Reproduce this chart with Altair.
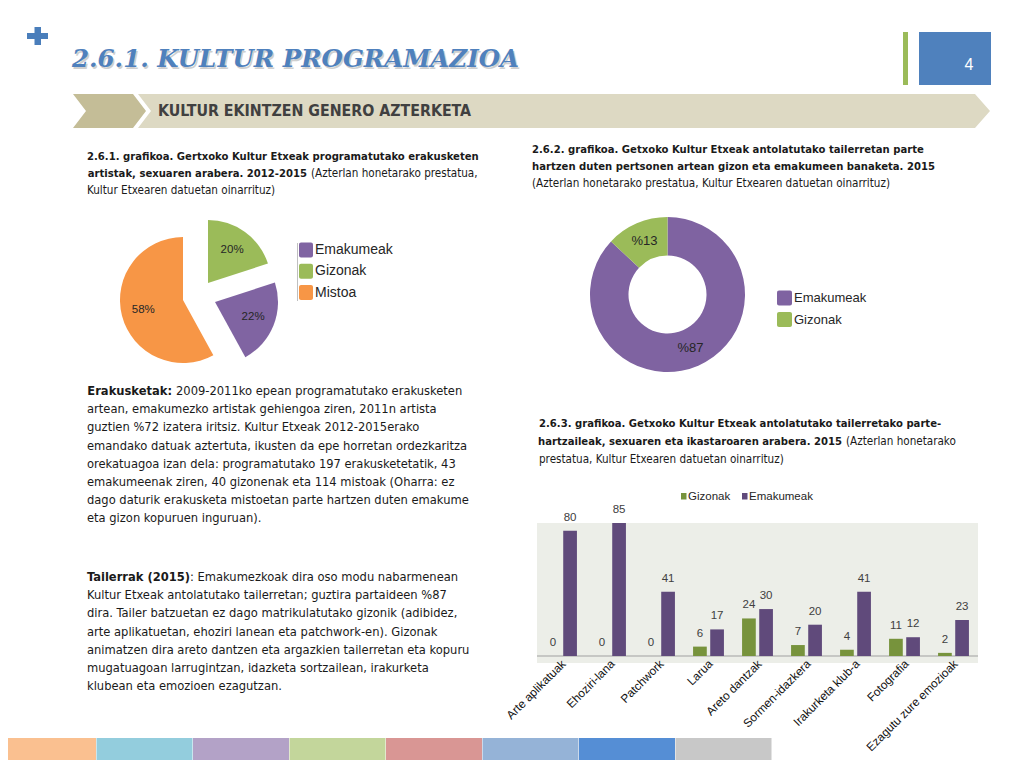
import math
import altair as alt
import pandas as pd

# ---------------- data ----------------
pie1_cats = ["Emakumeak", "Gizonak", "Mistoa"]
pie1_vals = [22, 20, 58]
pie1_draw_order = ["Gizonak", "Emakumeak", "Mistoa"]
pie1_colors = ["#8064a2", "#9bbb59", "#f79646"]

donut_cats = ["Emakumeak", "Gizonak"]
donut_vals = [87, 13]
donut_draw_order = ["Emakumeak", "Gizonak"]
donut_colors = ["#7f63a1", "#9bbb59"]

bar_cats = ["Arte aplikatuak", "Ehoziri-lana", "Patchwork", "Larua", "Areto dantzak",
            "Sormen-idazkera", "Irakurketa klub-a", "Fotografia", "Ezagutu zure emozioak"]
bar_gizonak = [0, 0, 0, 6, 24, 7, 4, 11, 2]
bar_emakumeak = [80, 85, 41, 17, 30, 20, 41, 12, 23]
bar_series = ["Gizonak", "Emakumeak"]
bar_colors = ["#77933c", "#604a7b"]

strip_colors = ["#fac090", "#93cddd", "#b3a2c7", "#c3d69b", "#d99694", "#95b3d7", "#558ed5", "#c8c8c8"]

title_text = "2.6.1.  KULTUR PROGRAMAZIOA"
banner_text = "KULTUR EKINTZEN GENERO AZTERKETA"
page_no = "4"

cap1_bold = ["2.6.1. grafikoa. Gertxoko Kultur Etxeak programatutako erakusketen",
             "artistak, sexuaren arabera. 2012-2015"]
cap1_norm = ["(Azterlan honetarako prestatua,", "Kultur Etxearen datuetan oinarrituz)"]

cap2_bold = ["2.6.2. grafikoa. Getxoko Kultur Etxeak antolatutako tailerretan parte",
             "hartzen duten pertsonen artean gizon eta emakumeen banaketa. 2015"]
cap2_norm = ["(Azterlan honetarako prestatua, Kultur Etxearen datuetan oinarrituz)"]

cap3_bold = ["2.6.3. grafikoa. Getxoko Kultur Etxeak antolatutako tailerretako parte-",
             "hartzaileak, sexuaren eta ikastaroaren arabera. 2015"]
cap3_norm = ["(Azterlan honetarako", "prestatua, Kultur Etxearen datuetan oinarrituz)"]

par1_bold = "Erakusketak:"
par1_lines = ["2009-2011ko epean programatutako erakusketen",
              "artean, emakumezko artistak gehiengoa ziren, 2011n artista",
              "guztien %72 izatera iritsiz. Kultur Etxeak 2012-2015erako",
              "emandako datuak aztertuta, ikusten da epe horretan ordezkaritza",
              "orekatuagoa izan dela: programatutako 197 erakusketetatik, 43",
              "emakumeenak ziren, 40 gizonenak eta 114 mistoak (Oharra: ez",
              "dago daturik erakusketa mistoetan parte hartzen duten emakume",
              "eta gizon kopuruen inguruan)."]

par2_bold = "Tailerrak (2015)"
par2_lines = [": Emakumezkoak dira oso modu nabarmenean",
              "Kultur Etxeak antolatutako tailerretan; guztira partaideen %87",
              "dira. Tailer batzuetan ez dago matrikulatutako gizonik (adibidez,",
              "arte aplikatuetan, ehoziri lanean eta patchwork-en). Gizonak",
              "animatzen dira areto dantzen eta argazkien tailerretan eta kopuru",
              "mugatuagoan larrugintzan, idazketa sortzailean, irakurketa",
              "klubean eta emozioen ezagutzan."]

# ---------------- helpers ----------------
W, H = 1008, 752


def P(v):
    return v - 8


one = pd.DataFrame({"d": [0]})
NARROW = "'Liberation Sans Narrow', 'Arial Narrow', 'DejaVu Sans Condensed', sans-serif"
SANS = "'Liberation Sans', Arial, sans-serif"
SERIF = "'DejaVu Serif', serif"

CAP_B = 11.2
CAP_N = 11.6
BODY = 12.8


def txt(x, y, s, size=14, weight="normal", color="#1a1a1a", font=NARROW, align="left",
        baseline="middle", style="normal", angle=0):
    return alt.Chart(one).mark_text(
        fontSize=size, fontWeight=weight, font=font, align=align, baseline=baseline,
        fontStyle=style, angle=angle, color=color
    ).encode(x=alt.value(P(x)), y=alt.value(P(y)), text=alt.value(s))


def rect(x1, y1, x2, y2, color, corner=0):
    return alt.Chart(one).mark_rect(color=color, cornerRadius=corner).encode(
        x=alt.value(P(x1)), x2=alt.value(P(x2)), y=alt.value(P(y1)), y2=alt.value(P(y2)))


def poly(points, color):
    path = "M " + " L ".join(f"{P(a)} {P(b)}" for a, b in points) + " Z"
    return alt.Chart(one).mark_point(shape=path, size=4, filled=True, color=color,
                                     opacity=1, strokeWidth=0).encode(
        x=alt.value(0), y=alt.value(0))


def mixed(xj, y, bold, norm, bsize, nsize, gap=4):
    """bold text ending at junction xj, normal text starting just after it"""
    return [txt(xj, y, bold, size=bsize, weight="bold", align="right"),
            txt(xj + gap, y, norm, size=nsize)]


layers = []

# ---------------- header ----------------
layers.append(rect(27, 33, 48, 39, "#4a7ebb"))
layers.append(rect(34.5, 27, 41, 45, "#4a7ebb"))
layers.append(txt(73.5, 68.5, title_text, size=24.5, weight="bold", style="italic", font=SERIF,
                  color="#cfcfcf", baseline="alphabetic"))
layers.append(txt(72, 67, title_text, size=24.5, weight="bold", style="italic", font=SERIF,
                  color="#4f81bd", baseline="alphabetic"))
layers.append(rect(903, 32, 908, 85, "#9bbb59"))
layers.append(rect(919, 32, 991, 85, "#4f81bd"))
layers.append(txt(969, 65, page_no, size=16, font=SANS, color="white", align="center"))

# banner
layers.append(poly([(73, 94), (133, 94), (146, 111), (133, 128), (73, 128), (86, 111)], "#c4bd97"))
layers.append(poly([(138, 94), (975, 94), (990, 111), (975, 128), (138, 128), (151, 111)], "#ddd9c3"))
layers.append(txt(158, 111, banner_text, size=15.8, weight="bold", color="#404040"))

# ---------------- captions ----------------
layers.append(txt(87, 157, cap1_bold[0], size=CAP_B, weight="bold"))
layers += mixed(307, 174, cap1_bold[1], cap1_norm[0], CAP_B, CAP_N)
layers.append(txt(87, 191, cap1_norm[1], size=CAP_N))

layers.append(txt(532, 150, cap2_bold[0], size=CAP_B, weight="bold"))
layers.append(txt(532, 167, cap2_bold[1], size=CAP_B, weight="bold"))
layers.append(txt(532, 184, cap2_norm[0], size=CAP_N))

layers.append(txt(539, 424, cap3_bold[0], size=CAP_B, weight="bold"))
layers += mixed(842, 442, cap3_bold[1], cap3_norm[0], CAP_B, CAP_N)
layers.append(txt(539, 460, cap3_norm[1], size=CAP_N))

# ---------------- paragraphs ----------------
LH = 18.2
layers += mixed(172, 391, par1_bold, par1_lines[0], BODY, BODY, gap=4)
for i, line in enumerate(par1_lines[1:], start=1):
    layers.append(txt(87, 391 + i * LH, line, size=BODY))

layers += mixed(190, 577, par2_bold, par2_lines[0], BODY, BODY, gap=0)
for i, line in enumerate(par2_lines[1:], start=1):
    layers.append(txt(87, 577 + i * LH, line, size=BODY))

# ---------------- pies ----------------
THETA = alt.Scale(domain=[0, 100], range=[0, 2 * math.pi])


def pie_layers(cats, vals, order, colors, centers, r_out, r_in, label_r, label_expr, fsize):
    df = pd.DataFrame({"cat": cats, "val": vals})
    df["rank"] = [order.index(c) for c in cats]
    base = alt.Chart(df).transform_window(
        v1="sum(val)", sort=[alt.SortField("rank")], frame=[None, 0]
    ).transform_calculate(
        v0="datum.v1 - datum.val", vm="datum.v1 - datum.val / 2", label=label_expr)
    out = []
    for c, col in zip(cats, colors):
        cx, cy = centers[c]
        b = base.transform_filter(alt.datum.cat == c)
        kw = dict(radius=r_out, color=col)
        if r_in:
            kw["radius2"] = r_in
        out.append(b.mark_arc(**kw).encode(
            theta=alt.Theta("v0:Q", scale=THETA, stack=None), theta2="v1:Q",
            x=alt.value(P(cx)), y=alt.value(P(cy))))
        out.append(b.mark_text(radius=label_r, fontSize=fsize, font=SANS, color="#262626").encode(
            theta=alt.Theta("vm:Q", scale=THETA, stack=None), text="label:N",
            x=alt.value(P(cx)), y=alt.value(P(cy))))
    return out


pie1_centers = {"Gizonak": (208, 283), "Emakumeak": (215, 302), "Mistoa": (183, 300)}
layers += pie_layers(pie1_cats, pie1_vals, pie1_draw_order, pie1_colors, pie1_centers,
                     63, 0, 41, "datum.val + '%'", 11.5)

donut_centers = {c: (667.5, 294.5) for c in donut_cats}
layers += pie_layers(donut_cats, donut_vals, donut_draw_order, donut_colors, donut_centers,
                     77.5, 39, 58, "'%' + datum.val", 13)

# pie legends
layers.append(alt.Chart(one).mark_rule(color="#bfbfbf", strokeWidth=1).encode(
    x=alt.value(P(297.5)), y=alt.value(P(243)), y2=alt.value(P(301))))
for i, (c, col) in enumerate(zip(pie1_cats, pie1_colors)):
    yc = 250 + i * 21.3
    layers.append(rect(299, yc - 7.5, 313, yc + 7.5, col, corner=2))
    layers.append(txt(315, yc, c, size=14, font=SANS, color="#262626"))

for i, (c, col) in enumerate(zip(donut_cats, donut_colors)):
    yc = 298 + i * 21.5
    layers.append(rect(777, yc - 7.5, 792, yc + 7.5, col, corner=2))
    layers.append(txt(794, yc, c, size=13, font=SANS, color="#262626"))

# ---------------- bar chart ----------------
layers.append(rect(537, 523, 978, 663, "#eceee8"))
layers.append(alt.Chart(one).mark_rule(color="#a0a0a0", strokeWidth=1).encode(
    x=alt.value(P(537)), x2=alt.value(P(978)), y=alt.value(P(656))))

bar_df = pd.DataFrame({
    "cat": bar_cats * 2,
    "series": [bar_series[0]] * len(bar_cats) + [bar_series[1]] * len(bar_cats),
    "val": bar_gizonak + bar_emakumeak,
})
XS = alt.X("cat:N", sort=bar_cats, axis=None,
           scale=alt.Scale(domain=bar_cats, range=[P(537), P(978)], paddingInner=0.37, paddingOuter=0.185))
XO = alt.XOffset("series:N", sort=bar_series, scale=alt.Scale(domain=bar_series, paddingInner=0.2))
YS = alt.Y("val:Q", axis=None, scale=alt.Scale(domain=[0, 85], range=[P(656), P(523)], nice=False))

layers.append(alt.Chart(bar_df).mark_bar().encode(
    x=XS, xOffset=XO, y=YS,
    color=alt.Color("series:N", scale=alt.Scale(domain=bar_series, range=bar_colors), legend=None)))
layers.append(alt.Chart(bar_df).mark_text(dy=-13, fontSize=11.5, font=SANS, color="#404040").encode(
    x=XS, xOffset=XO, y=YS, text="val:Q"))

lab_df = pd.DataFrame({"cat": bar_cats})
layers.append(alt.Chart(lab_df).mark_text(angle=315, align="right", baseline="middle",
                                          fontSize=11.8, font=SANS, color="#111111", dx=3).encode(
    x=XS, y=alt.value(P(664)), text="cat:N"))

# bar legend
for i, (s, col) in enumerate(zip(bar_series, bar_colors)):
    x0 = [681, 742][i]
    layers.append(rect(x0, 493, x0 + 5.5, 499.5, col))
    layers.append(txt(x0 + 7, 497, s, size=11.5, font=SANS, color="#262626"))

# ---------------- footer strips ----------------
for i, col in enumerate(strip_colors):
    layers.append(rect(i * 96.5, 738, (i + 1) * 96.5 - 0.5, 770, col))

chart = alt.layer(*layers).properties(
    width=W, height=H, padding=0, autosize=alt.AutoSizeParams(type="none"),
    background="white"
).configure_view(stroke=None)

chart.save("out.html", embed_options={"renderer": "svg", "actions": False})
